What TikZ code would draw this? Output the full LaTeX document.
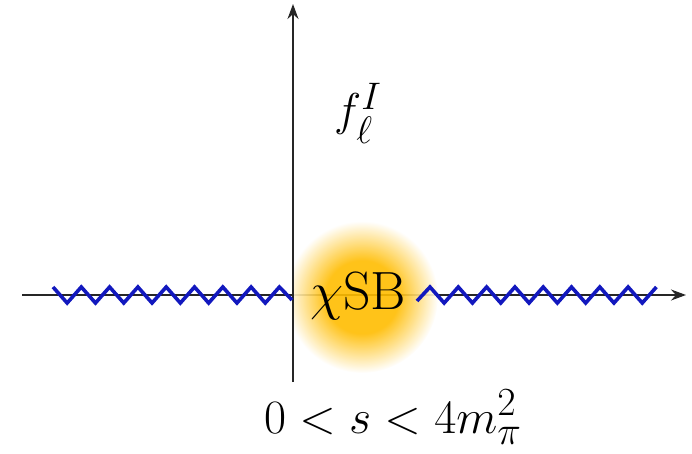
\documentclass[tikz,border=0pt]{standalone}
\usepackage{amsmath,amssymb}
\usepackage{xcolor}
\usepackage{tikz}
\usetikzlibrary{arrows.meta, positioning}
\definecolor{ZigBlue}{RGB}{18,24,190}
\definecolor{GlowAmber}{RGB}{255,188,0}
\pgfdeclareradialshading{chiglow}{\pgfpointorigin}{%
  color(0bp)=(GlowAmber); color(12bp)=(GlowAmber);
  color(25bp)=(white); color(50bp)=(white)}

\begin{document}
\begin{tikzpicture}[
  x=1pt, y=-1pt,
  font=\Huge,
  axis/.style={line width=1.6pt, black!85, -{Stealth[length=15pt, width=11pt]}},
  zz/.style={line width=3.6pt, ZigBlue, line join=miter},
  lbl/.style={inner sep=0pt, scale=1.85}
]
\useasboundingbox (0,0) rectangle (692,454);

% Axes
\coordinate (xl) at (22,295);
\coordinate (xr) at (686,295);
\coordinate (yb) at (293,382);
\coordinate (yt) at (293,4);
\draw[axis] (xl) -- (xr);
\draw[axis] (yb) -- (yt);

% Glow (only right of the vertical axis)
\coordinate (glow) at (362,297);
\begin{scope}
  \clip (294,200) rectangle (460,400);
  \shade[shading=chiglow, opacity=0.9] (glow) circle (76);
\end{scope}

% Cuts
\draw[zz] (53,287) \foreach \k in {1,...,16} {
  -- ({53+14.15*\k}, {287+16*mod(\k,2)}) } -- (292,300);
\draw[zz] (417,301) \foreach \k in {0,...,16} {
  -- ({430+14.15*\k}, {287+16*mod(\k,2)}) };

% Labels
\node[lbl, scale=1.17] (chisb) at (358,296) {$\chi$SB};
\node[lbl] (fl) at (358,113) {$f_\ell^I$};
\node[lbl, scale=1.04, anchor=base] (range) at (393,433) {$0<s<4m_\pi^2$};

\end{tikzpicture}
\end{document}
